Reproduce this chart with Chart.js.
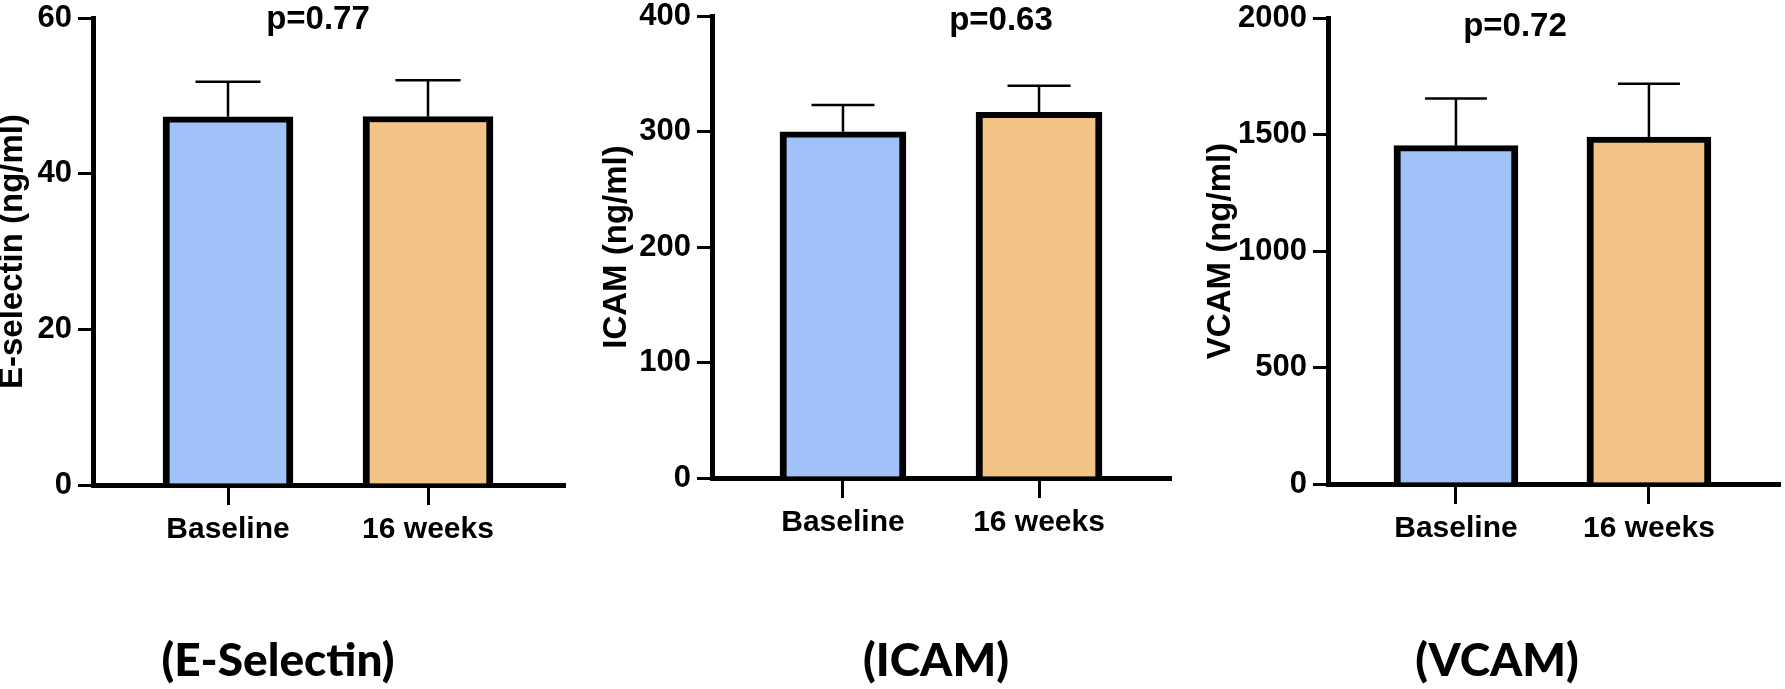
<!DOCTYPE html>
<html>
<head>
<meta charset="utf-8">
<script src="https://cdn.jsdelivr.net/npm/chart.js@4.4.1/dist/chart.umd.min.js"></script>
<style>
html,body{margin:0;padding:0;background:#fff;width:1785px;height:689px;overflow:hidden;}
.pane{position:absolute;top:0;height:689px;}
.cap{position:absolute;top:636px;font-family:Lato,'Noto Sans',sans-serif;font-weight:900;font-size:46px;line-height:1;white-space:nowrap;transform:translateX(-50%);color:#000;}
</style>
</head>
<body>
<div class="pane" style="left:0px;width:600px"><canvas id="c0" width="600" height="689"></canvas></div>
<div class="pane" style="left:600px;width:600px"><canvas id="c1" width="600" height="689"></canvas></div>
<div class="pane" style="left:1190px;width:595px"><canvas id="c2" width="595" height="689"></canvas></div>
<div class="cap" id="cap0" style="left:278px"></div>
<div class="cap" id="cap1" style="left:936px"></div>
<div class="cap" id="cap2" style="left:1497px"></div>
<script>
// ---- data ----
const categories = ['Baseline', '16 weeks'];
const eselMean  = [47.3, 47.35];
const eselUpper = [51.8, 52.0];
const icamMean  = [299.8, 316.6];
const icamUpper = [322.9, 339.7];
const vcamMean  = [1452, 1489];
const vcamUpper = [1655, 1718];
const eselTicks = [0, 20, 40, 60];
const icamTicks = [0, 100, 200, 300, 400];
const vcamTicks = [0, 500, 1000, 1500, 2000];
const yTitles   = ['E-selectin (ng/ml)', 'ICAM (ng/ml)', 'VCAM (ng/ml)'];
const pValues   = ['p=0.77', 'p=0.63', 'p=0.72'];
const captions  = ['(E-Selectin)', '(ICAM)', '(VCAM)'];

const barColors = ['#A1C2F9', '#F3C486'];
const SANS = "'Liberation Sans',Arial,sans-serif";

const errPlugin = {
  id: 'errbars',
  afterDatasetsDraw(chart) {
    const ctx = chart.ctx;
    const ds = chart.data.datasets[0];
    const meta = chart.getDatasetMeta(0);
    const ys = chart.scales.y;
    ctx.save();
    ctx.strokeStyle = '#000';
    ctx.lineWidth = 2.5;
    meta.data.forEach((bar, i) => {
      const x = bar.x;
      const yTop = bar.y;
      const yErr = ys.getPixelForValue(ds.errUpper[i]);
      const half = bar.width / 4;
      ctx.beginPath();
      ctx.moveTo(x, yTop);
      ctx.lineTo(x, yErr);
      ctx.moveTo(x - half, yErr);
      ctx.lineTo(x + half, yErr);
      ctx.stroke();
    });
    ctx.restore();
  }
};

const pPlugin = {
  id: 'pval',
  afterDraw(chart, args, opts) {
    const ctx = chart.ctx;
    ctx.save();
    ctx.fillStyle = '#000';
    ctx.font = 'bold 33px ' + SANS;
    ctx.textAlign = 'center';
    ctx.textBaseline = 'alphabetic';
    const x = chart.scales.x.getPixelForValue(opts.at);
    ctx.fillText(opts.text, x, opts.baseline);
    ctx.restore();
  }
};

function makeChart(id, c) {
  const points = c.mean.map((v, i) => ({x: i, y: v}));
  return new Chart(document.getElementById(id), {
    type: 'bar',
    data: {
      datasets: [{
        data: points,
        errUpper: c.upper,
        backgroundColor: barColors,
        borderColor: '#000',
        borderWidth: {top: 6, left: 7, right: 7, bottom: 0},
        borderSkipped: 'start',
        barThickness: c.barW
      }]
    },
    options: {
      responsive: false,
      animation: false,
      events: [],
      layout: {padding: {left: 0, right: c.padR, top: c.padT, bottom: 0}},
      plugins: {
        legend: {display: false},
        tooltip: {enabled: false},
        pval: {text: c.p, at: c.pAt, baseline: c.pBase}
      },
      scales: {
        x: {
          type: 'linear',
          min: c.xMin, max: c.xMax,
          offset: false,
          z: 1,
          afterBuildTicks: s => { s.ticks = categories.map((cat, i) => ({value: i})); },
          afterFit: s => { s.height = c.xH; s.paddingLeft = 0; s.paddingRight = 0; },
          ticks: {
            callback: v => categories[v],
            color: '#000',
            font: {family: SANS, weight: 'bold', size: 30},
            padding: 7, maxRotation: 0, autoSkip: false
          },
          grid: {offset: false, drawOnChartArea: false, drawTicks: true, tickLength: 20, lineWidth: 3, color: '#000'},
          border: {display: true, width: 5, color: '#000'}
        },
        y: {
          min: 0, max: c.yTicks[c.yTicks.length - 1],
          z: 1,
          afterBuildTicks: s => { s.ticks = c.yTicks.map(v => ({value: v})); },
          afterFit: s => { s.width = c.yW; s.paddingTop = 0; s.paddingBottom = 0; },
          ticks: {
            callback: v => String(v),
            color: '#000',
            font: {family: SANS, weight: 'bold', size: 31},
            padding: 6
          },
          grid: {drawOnChartArea: false, drawTicks: true, tickLength: 15, lineWidth: 3, color: '#000'},
          border: {display: true, width: 5, color: '#000'},
          title: {
            display: true, text: c.yTitle, color: '#000',
            font: {family: SANS, weight: 'bold', size: 33, lineHeight: 0.8},
            padding: {top: c.titlePad, bottom: 0}
          }
        }
      }
    },
    plugins: [errPlugin, pPlugin]
  });
}

makeChart('c0', {mean: eselMean, upper: eselUpper, yTicks: eselTicks, yTitle: yTitles[0], p: pValues[0],
  pAt: 0.45, pBase: 29, barW: 130, padR: 36, padT: 18, xH: 204, yW: 93, xMin: -0.675, xMax: 1.68, titlePad: 0});
makeChart('c1', {mean: icamMean, upper: icamUpper, yTicks: icamTicks, yTitle: yTitles[1], p: pValues[1],
  pAt: 0.806, pBase: 30, barW: 126, padR: 30, padT: 16, xH: 211, yW: 112, xMin: -0.668, xMax: 1.668, titlePad: 4});
makeChart('c2', {mean: vcamMean, upper: vcamUpper, yTicks: vcamTicks, yTitle: yTitles[2], p: pValues[2],
  pAt: 0.306, pBase: 36, barW: 124, padR: 6, padT: 18, xH: 205, yW: 138, xMin: -0.663, xMax: 1.674, titlePad: 18});

captions.forEach((t, i) => { document.getElementById('cap' + i).textContent = t; });
</script>
</body>
</html>
